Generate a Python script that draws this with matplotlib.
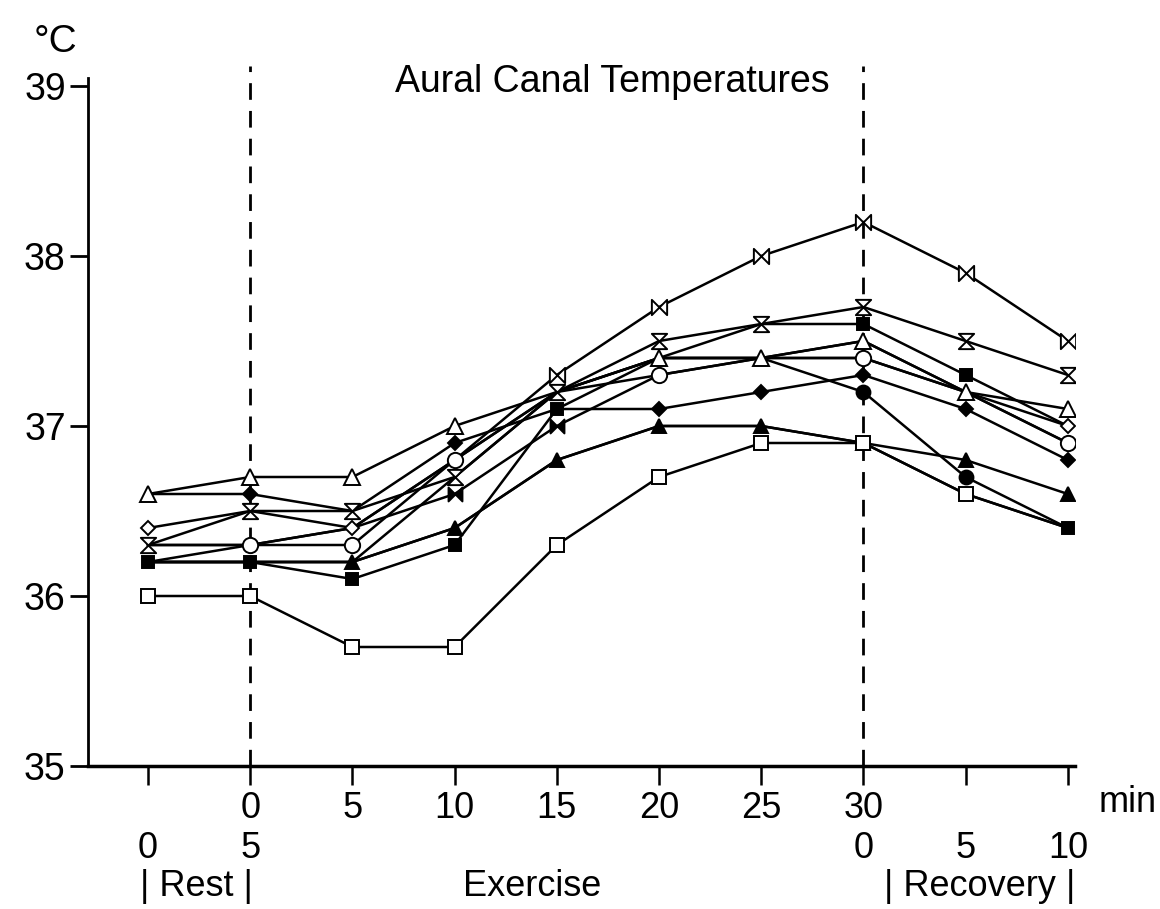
import numpy as np
import matplotlib
matplotlib.use("Agg")
import matplotlib.pyplot as plt
import matplotlib.transforms as mtransforms
from matplotlib.path import Path

plt.rcParams['font.family'] = ['Liberation Sans', 'DejaVu Sans']

# positions: rest 0, rest 5 / exercise 0, 5, 10, 15, 20, 25, 30 / recovery 0, 5, 10
pos = np.arange(10)

sq_open = [36.0, 36.0, 35.7, 35.7, 36.3, 36.7, 36.9, 36.9, 36.6, 36.4]
tri_open = [36.6, 36.7, 36.7, 37.0, 37.2, 37.4, 37.4, 37.5, 37.2, 37.1]
dia_fill = [36.6, 36.6, 36.5, 36.9, 37.1, 37.1, 37.2, 37.3, 37.1, 36.8]
hourglass_v = [36.3, 36.5, 36.5, 36.7, 37.2, 37.5, 37.6, 37.7, 37.5, 37.3]
bowtie_v = [36.3, 36.3, 36.4, 36.8, 37.3, 37.7, 38.0, 38.2, 37.9, 37.5]
dia_open = [36.4, 36.5, 36.4, 36.8, 37.2, 37.4, 37.4, 37.5, 37.2, 37.0]
circ_open = [36.2, 36.3, 36.3, 36.8, 37.2, 37.3, 37.4, 37.4, 37.2, 36.9]
tri_fill = [36.2, 36.2, 36.2, 36.4, 36.8, 37.0, 37.0, 36.9, 36.8, 36.6]
sq_fill = [36.2, 36.2, 36.1, 36.3, 37.1, 37.4, 37.6, 37.6, 37.3, 37.0]
sq_fill2 = [36.2, 36.2, 36.2, 36.4, 36.8, 37.0, 37.0, 36.9, 36.6, 36.4]
circ_fill = [36.2, 36.2, 36.2, 36.7, 37.2, 37.4, 37.4, 37.2, 36.7, 36.4]
bowtie_fill = [36.3, 36.3, 36.4, 36.6, 37.0, 37.3, 37.4, 37.4, 37.2, 36.9]

row1_labels = ['', '0', '5', '10', '15', '20', '25', '30', '', '']
row2_labels = ['0', '5', '', '', '', '', '', '0', '5', '10']

hg = Path([(-1, 1), (1, 1), (-1, -1), (1, -1), (-1, 1)],
          [Path.MOVETO, Path.LINETO, Path.LINETO, Path.LINETO, Path.CLOSEPOLY])
bt = Path([(-1, 1), (-1, -1), (1, 1), (1, -1), (-1, 1)],
          [Path.MOVETO, Path.LINETO, Path.LINETO, Path.LINETO, Path.CLOSEPOLY])

# (values, marker, face, size, points where the marker is not hidden by another)
series = [
    (bowtie_fill, bt, 'black', 10, [3, 4]),
    (sq_fill2, 's', 'black', 9, [7, 9]),
    (circ_fill, 'o', 'black', 10, [7, 8]),
    (tri_fill, '^', 'black', 10, [2, 3, 4, 5, 6, 7, 8, 9]),
    (sq_open, 's', 'white', 10, [0, 1, 2, 3, 4, 5, 6, 7, 8]),
    (sq_fill, 's', 'black', 9, [0, 1, 2, 3, 4, 7, 8]),
    (circ_open, 'o', 'white', 11, [1, 2, 3, 5, 7, 9]),
    (dia_open, 'D', 'white', 7, [0, 2, 9]),
    (dia_fill, 'D', 'black', 7, [1, 3, 5, 6, 7, 8, 9]),
    (tri_open, '^', 'white', 11, [0, 1, 2, 3, 5, 6, 7, 8, 9]),
    (bowtie_v, bt, 'white', 11, [4, 5, 6, 7, 8, 9]),
    (hourglass_v, hg, 'white', 11, list(range(10))),
]

fig = plt.figure(figsize=(11.6, 9.09), dpi=100)
ax = fig.add_axes([88 / 1160, 1 - 766 / 909, (1075 - 88) / 1160, (766 - 77.5) / 909])

for vals, m, fc, ms, vis in series:
    ax.plot(pos, vals, color='black', lw=1.8, zorder=2)
for vals, m, fc, ms, vis in series:
    ax.plot(pos, vals, ls='none', marker=m, markersize=ms, markerfacecolor=fc,
            markeredgecolor='black', markeredgewidth=1.4, markevery=vis, zorder=3)

for xv in [1, 7]:
    ax.plot([xv, xv], [35, 39.12], color='black', lw=2, ls=(0, (6, 4)), zorder=1, clip_on=False)

ax.set_xlim(-0.587, 9.07)
ax.set_ylim(35, 39.05)
ax.spines['top'].set_visible(False)
ax.spines['right'].set_visible(False)
ax.spines['left'].set_linewidth(2)
ax.spines['bottom'].set_linewidth(2.5)

ax.set_yticks([35, 36, 37, 38, 39])
ax.set_yticklabels(['35', '36', '37', '38', '39'], fontsize=27)
ax.tick_params(axis='y', length=13, width=2, pad=3)
ax.set_xticks(pos)
ax.set_xticklabels([])
ax.tick_params(axis='x', length=14, width=1.8)

tr = mtransforms.blended_transform_factory(ax.transData, fig.transFigure)
for xv, lab in zip(pos, row1_labels):
    fig.text(xv, 1 - 808 / 909, lab, transform=tr, ha='center', va='center', fontsize=26)
for xv, lab in zip(pos, row2_labels):
    fig.text(xv, 1 - 848 / 909, lab, transform=tr, ha='center', va='center', fontsize=26)
fig.text(1128 / 1160, 1 - 802 / 909, 'min', ha='center', va='center', fontsize=26)
fig.text(196 / 1160, 1 - 886 / 909, '| Rest |', ha='center', va='center', fontsize=26)
fig.text(532 / 1160, 1 - 886 / 909, 'Exercise', ha='center', va='center', fontsize=26)
fig.text(980 / 1160, 1 - 886 / 909, '| Recovery |', ha='center', va='center', fontsize=26)

fig.text(612 / 1160, 1 - 82 / 909, 'Aural Canal Temperatures', ha='center', va='center', fontsize=27)
fig.text(55 / 1160, 1 - 42 / 909, '°C', ha='center', va='center', fontsize=28)

fig.savefig('out.png', dpi=100)
